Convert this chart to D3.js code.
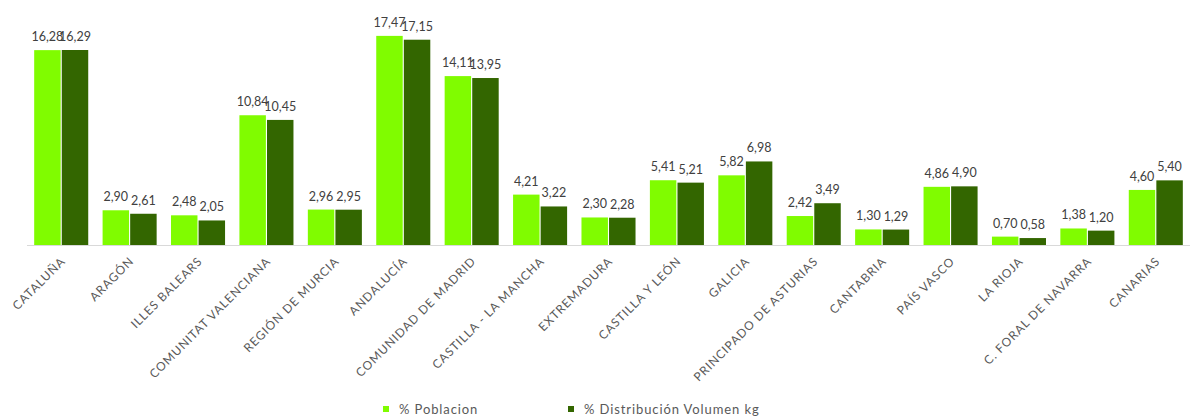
<!DOCTYPE html>
<html><head><meta charset="utf-8">
<script src="https://cdn.jsdelivr.net/npm/d3@7"></script>
<style>body{margin:0;background:#fff}svg{display:block}text{font-family:Lato,"Open Sans",sans-serif}</style>
</head><body><svg id="c" width="1192" height="419"></svg>
<script>
const categories = ["CATALUÑA","ARAGÓN","ILLES BALEARS","COMUNITAT VALENCIANA","REGIÓN DE MURCIA","ANDALUCÍA","COMUNIDAD DE MADRID","CASTILLA - LA MANCHA","EXTREMADURA","CASTILLA Y LEÓN","GALICIA","PRINCIPADO DE ASTURIAS","CANTABRIA","PAÍS VASCO","LA RIOJA","C. FORAL DE NAVARRA","CANARIAS"];
const poblacion = [16.28,2.90,2.48,10.84,2.96,17.47,14.11,4.21,2.30,5.41,5.82,2.42,1.30,4.86,0.70,1.38,4.60];
const distribucion = [16.29,2.61,2.05,10.45,2.95,17.15,13.95,3.22,2.28,5.21,6.98,3.49,1.29,4.90,0.58,1.20,5.40];
const seriesNames = ["% Poblacion","% Distribución Volumen kg"];
const colors = ["#80fc00","#336600"];

const svg = d3.select("#c");
const base = 245;
const x = d3.scaleBand().domain(categories).range([27,1190]).paddingInner(0.21).paddingOuter(0.105);
const xs = d3.scaleBand().domain([0,1]).range([0,x.bandwidth()]).paddingInner(0.04);
const y = d3.scaleLinear().domain([0,20]).range([base,5.6]);
const fmt = v => v.toFixed(2).replace(".",",");

svg.append("line").attr("x1",27).attr("x2",1190).attr("y1",base+0.5).attr("y2",base+0.5)
  .attr("stroke","#d9d9d9").attr("stroke-width",1);

const data = [poblacion, distribucion];
data.forEach((arr,si)=>{
  const g = svg.append("g");
  g.selectAll("rect").data(arr).join("rect")
    .attr("x",(d,i)=>x(categories[i])+xs(si))
    .attr("width",xs.bandwidth())
    .attr("y",d=>y(d)).attr("height",d=>base-y(d))
    .attr("fill",colors[si]);
});
data.forEach((arr,si)=>{
  svg.append("g").selectAll("text").data(arr).join("text")
    .attr("x",(d,i)=>x(categories[i])+xs(si)+xs.bandwidth()/2)
    .attr("y",d=>y(d)-9)
    .attr("text-anchor","middle").attr("font-size",12.5).attr("fill","#404040")
    .text(fmt);
});

svg.append("g").selectAll("text").data(categories).join("text")
  .attr("transform",d=>`translate(${x(d)+x.bandwidth()/2+5},${base+17}) rotate(-45)`)
  .attr("text-anchor","end").attr("font-size",12).attr("letter-spacing","0.9px").attr("fill","#595959")
  .text(d=>d);

const leg = svg.append("g");
const lx = [383,568];
seriesNames.forEach((n,i)=>{
  leg.append("rect").attr("x",lx[i]).attr("y",406).attr("width",6).attr("height",6).attr("fill",colors[i]);
  leg.append("text").attr("x",lx[i]+16).attr("y",414).attr("font-size",13).attr("letter-spacing","0.9px").attr("fill","#595959").text(n);
});
</script></body></html>
